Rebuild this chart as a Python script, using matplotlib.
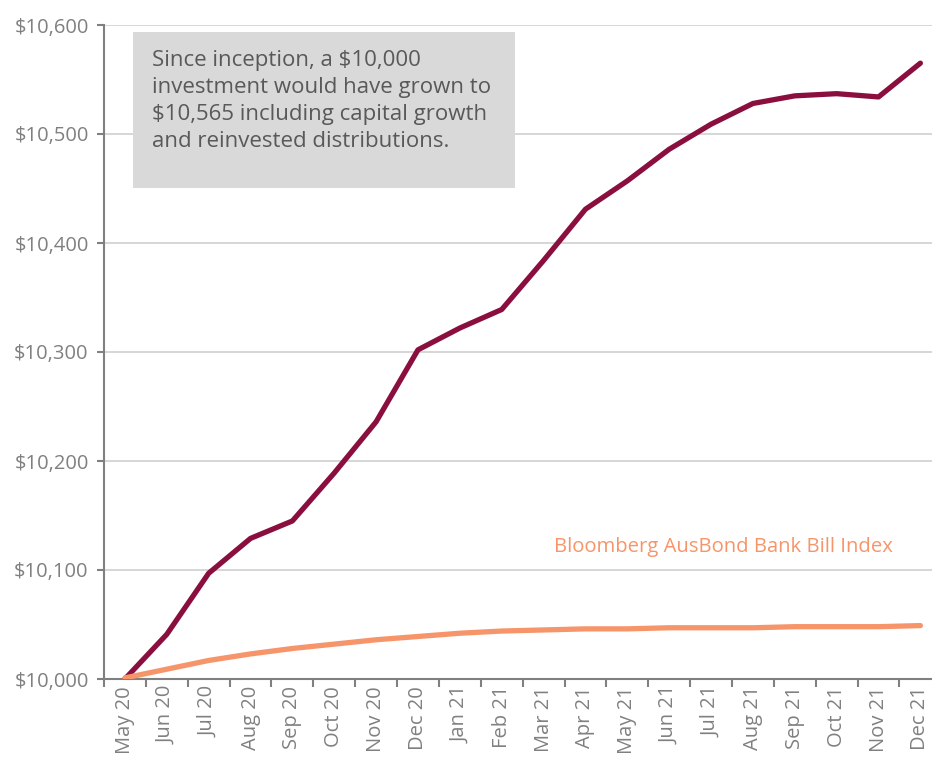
import matplotlib.pyplot as plt
import matplotlib.ticker as mticker
from matplotlib.patches import Rectangle

months = ["May 20", "Jun 20", "Jul 20", "Aug 20", "Sep 20", "Oct 20", "Nov 20",
          "Dec 20", "Jan 21", "Feb 21", "Mar 21", "Apr 21", "May 21", "Jun 21",
          "Jul 21", "Aug 21", "Sep 21", "Oct 21", "Nov 21", "Dec 21"]
fund = [10000, 10041, 10097, 10129, 10145, 10189, 10236, 10302, 10322, 10339,
        10384, 10431, 10457, 10486, 10509, 10528, 10535, 10537, 10534, 10565]
bench = [10001, 10009, 10017, 10023, 10028, 10032, 10036, 10039, 10042, 10044,
         10045, 10046, 10046, 10047, 10047, 10047, 10048, 10048, 10048, 10049]

grey = "#808080"
maroon = "#8A0F3F"
orange = "#F7956A"

plt.rcParams["font.family"] = ["Open Sans", "DejaVu Sans"]

fig = plt.figure(figsize=(9.32, 7.62), dpi=100)
ax = fig.add_axes([104 / 932, 1 - 679 / 762, 1 - 104 / 932 + 0.01, (679 - 25) / 762])

x = list(range(len(months)))
ax.plot(x, fund, color=maroon, lw=3.8, solid_capstyle="round", zorder=3)
ax.plot(x, bench, color=orange, lw=3.8, solid_capstyle="round", zorder=4)

ax.set_xlim(-0.5, len(months) - 0.5)
ax.set_ylim(10000, 10600)
ax.set_xticks([i - 0.5 for i in range(len(months) + 1)])
ax.set_xticklabels([])
ax.set_xticks(x, minor=True)
ax.set_xticklabels(months, minor=True, rotation=90, fontsize=14.5, color=grey)
ax.tick_params(axis="x", which="minor", length=0, pad=5)
ax.tick_params(axis="x", which="major", length=6, width=1.5, color=grey)
ax.yaxis.set_major_locator(mticker.MultipleLocator(100))
ax.yaxis.set_major_formatter(mticker.FuncFormatter(lambda v, p: f"${v:,.0f}"))
ax.tick_params(axis="y", length=5, width=1.5, color=grey, labelsize=14.5,
               labelcolor=grey, pad=6)
ax.grid(axis="y", color="#d0d0d0", lw=1.2)
ax.set_axisbelow(True)
for s in ["top", "right"]:
    ax.spines[s].set_visible(False)
for s in ["left", "bottom"]:
    ax.spines[s].set_color(grey)
    ax.spines[s].set_linewidth(1.5)

# note box
fig.patches.append(Rectangle((133 / 932, 1 - 188 / 762), (515 - 133) / 932, (188 - 32) / 762,
                             transform=fig.transFigure, facecolor="#d9d9d9",
                             edgecolor="none", zorder=5))
fig.text(152 / 932, 1 - 50 / 762,
         "Since inception, a $10,000\ninvestment would have grown to\n"
         "$10,565 including capital growth\nand reinvested distributions.",
         ha="left", va="top", fontsize=16, color="#595959", linespacing=1.38, zorder=6)

ax.text(14.3, 10121, "Bloomberg AusBond Bank Bill Index", color=orange,
        fontsize=14.6, ha="center", va="center")

fig.savefig("out.png", dpi=100)
